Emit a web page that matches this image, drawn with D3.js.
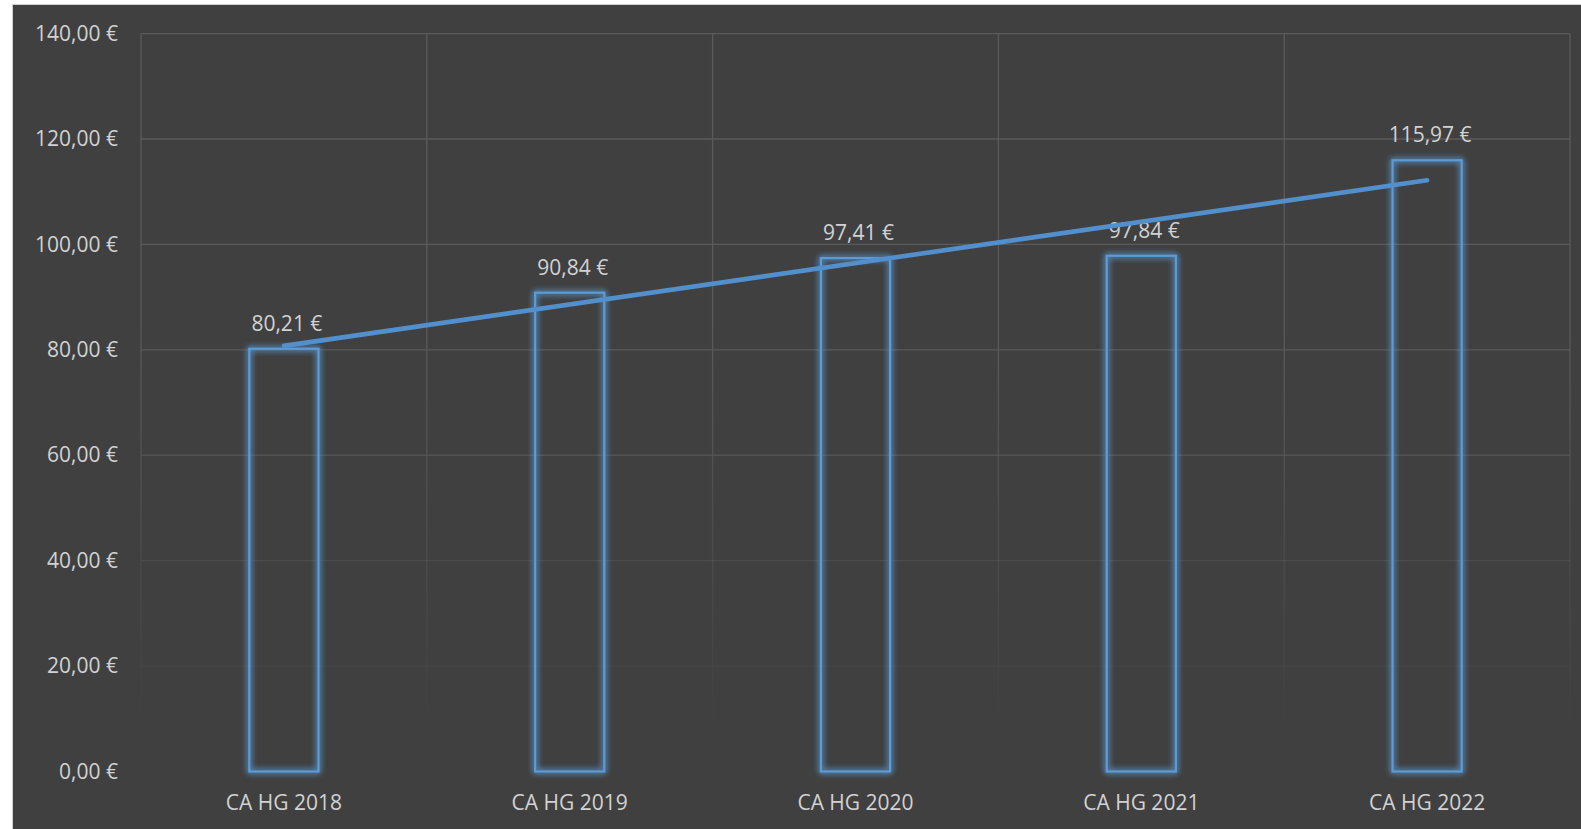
<!DOCTYPE html>
<html><head><meta charset="utf-8">
<script src="https://cdn.jsdelivr.net/npm/d3@7"></script>
<style>
html,body{margin:0;padding:0;background:#fff;overflow:hidden}
text{font-family:"Open Sans",sans-serif}
</style></head>
<body>
<svg id="chart" width="1581" height="829"></svg>
<script>
const categories = ["CA HG 2018","CA HG 2019","CA HG 2020","CA HG 2021","CA HG 2022"];
const values = [80.21, 90.84, 97.41, 97.84, 115.97];
const valueLabels = ["80,21 €","90,84 €","97,41 €","97,84 €","115,97 €"];
const yTicks = [0,20,40,60,80,100,120,140];
const yTickLabels = ["0,00 €","20,00 €","40,00 €","60,00 €","80,00 €","100,00 €","120,00 €","140,00 €"];

const W = 1581, H = 829;
const plot = {left:141, right:1570, top:33.6, bottom:771.5};
const svg = d3.select("#chart");

// chart frame
svg.append("rect").attr("x",12.5).attr("y",4.5).attr("width",W).attr("height",H)
  .attr("fill","#404040").attr("stroke","#d0d0d0").attr("stroke-width",1);

const defs = svg.append("defs");
const grad = defs.append("linearGradient").attr("id","gridFade")
  .attr("gradientUnits","userSpaceOnUse").attr("x1",0).attr("x2",0)
  .attr("y1",plot.top).attr("y2",plot.bottom);
grad.append("stop").attr("offset","0%").attr("stop-color","#5a5a5a").attr("stop-opacity",1);
grad.append("stop").attr("offset","40%").attr("stop-color","#5a5a5a").attr("stop-opacity",1);
grad.append("stop").attr("offset","95%").attr("stop-color","#5a5a5a").attr("stop-opacity",0);

const glow = defs.append("filter").attr("id","glow")
  .attr("x","-30%").attr("y","-10%").attr("width","160%").attr("height","120%");
glow.append("feGaussianBlur").attr("in","SourceGraphic").attr("stdDeviation",3).attr("result","b");
const gm = glow.append("feMerge");
gm.append("feMergeNode").attr("in","b");
gm.append("feMergeNode").attr("in","b");
gm.append("feMergeNode").attr("in","SourceGraphic");

const x = d3.scaleBand().domain(categories).range([plot.left, plot.right]).paddingInner(0).paddingOuter(0);
const y = d3.scaleLinear().domain([0,140]).range([plot.bottom, plot.top]);

// gridlines
const grid = svg.append("g").attr("stroke","url(#gridFade)").attr("stroke-width",1.3).attr("fill","none");
yTicks.forEach(t=>{
  grid.append("line").attr("x1",plot.left).attr("x2",plot.right)
    .attr("y1",y(t)).attr("y2",y(t)+0.01);
});
const boundaries = categories.map(c=>x(c)).concat([x(categories[categories.length-1])+x.bandwidth()]);
boundaries.forEach(b=>{
  grid.append("line").attr("x1",b).attr("x2",b+0.01).attr("y1",plot.top).attr("y2",plot.bottom);
});

// y axis
const yAxis = d3.axisLeft(y).tickValues(yTicks).tickSize(0).tickPadding(0)
  .tickFormat((d,i)=>yTickLabels[i]);
const ya = svg.append("g").attr("transform",`translate(118,0)`).call(yAxis);
ya.select(".domain").remove();
ya.selectAll("text").attr("fill","#d2d2d2").attr("font-size","21px");

// x axis
const xAxis = d3.axisBottom(x).tickSize(0).tickPadding(0);
const xa = svg.append("g").attr("transform",`translate(0,${plot.bottom+24})`).call(xAxis);
xa.select(".domain").remove();
xa.selectAll("text").attr("fill","#d2d2d2").attr("font-size","21px");

// bars
const bw = x.bandwidth()*0.242;
svg.append("g").selectAll("rect").data(values).join("rect")
  .attr("x",(d,i)=>x(categories[i])+x.bandwidth()/2-bw/2)
  .attr("y",d=>y(d))
  .attr("width",bw)
  .attr("height",d=>y(0)-y(d))
  .attr("fill","none").attr("stroke","#5b9bd5").attr("stroke-width",2.2)
  .attr("filter","url(#glow)");

// data labels
svg.append("g").selectAll("text").data(values).join("text")
  .attr("x",(d,i)=>x(categories[i])+x.bandwidth()/2+3)
  .attr("y",d=>y(d)-18)
  .attr("text-anchor","middle").attr("fill","#d2d2d2").attr("font-size","21px")
  .text((d,i)=>valueLabels[i]);

// linear trendline (least squares on the series, as the spreadsheet does)
const n = values.length;
const xs = d3.range(1,n+1);
const mx = d3.mean(xs), my = d3.mean(values);
const slope = d3.sum(xs.map((xi,i)=>(xi-mx)*(values[i]-my))) / d3.sum(xs.map(xi=>(xi-mx)*(xi-mx)));
const intercept = my - slope*mx;
const trendPts = [1,n].map(k=>[x(categories[k-1])+x.bandwidth()/2, y(intercept+slope*k)]);
svg.append("path").attr("d",d3.line()(trendPts))
  .attr("stroke","#5190cd").attr("stroke-width",4.6).attr("fill","none").attr("stroke-linecap","round");
</script>
</body></html>
